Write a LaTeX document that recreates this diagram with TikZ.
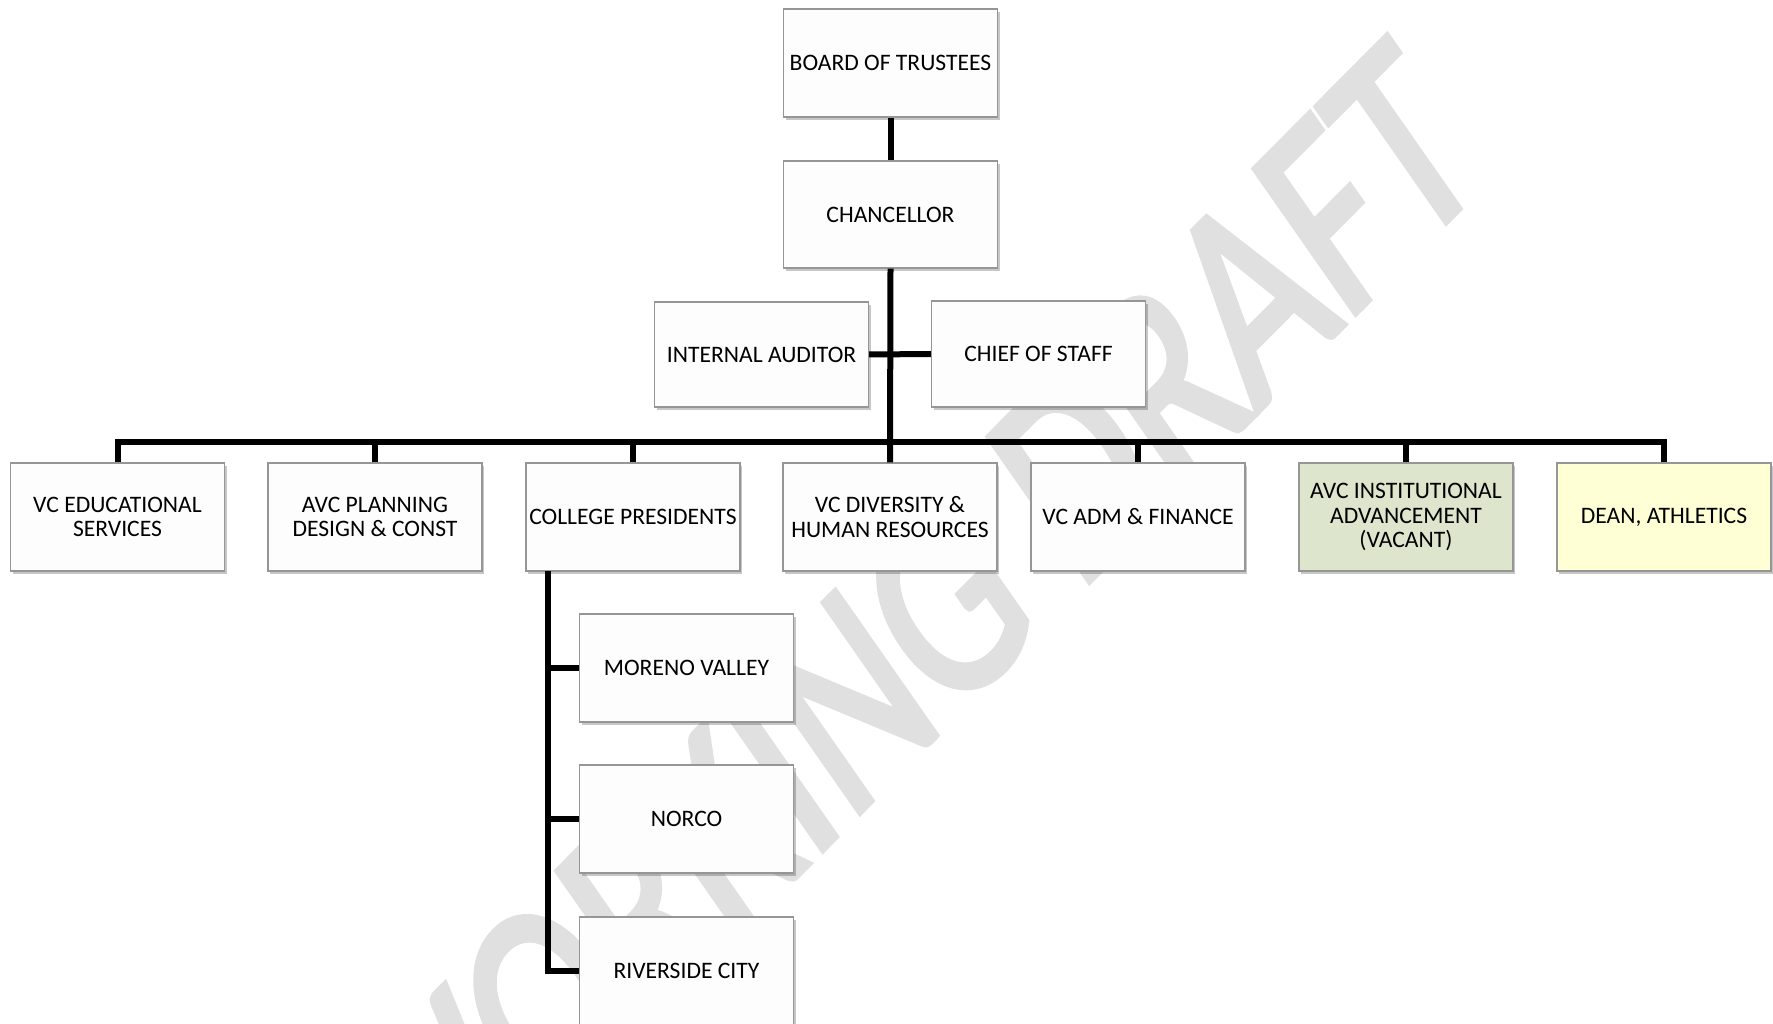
\documentclass[tikz,border=0pt]{standalone}
\usepackage{fontspec}
\setmainfont{Carlito}
\newfontfamily\wmfont[FakeBold=2.5]{Carlito}
\usetikzlibrary{shadows}
\definecolor{boxline}{RGB}{150,150,150}
\definecolor{boxfill}{RGB}{253,253,253}
\definecolor{greenfill}{RGB}{221,230,204}
\definecolor{yellowfill}{RGB}{255,255,213}
\definecolor{wmgray}{RGB}{224,224,224}
\begin{document}
\begin{tikzpicture}[x=1pt,y=-1pt,
  orgbox/.style={draw=boxline, line width=1.3pt, fill=boxfill,
    minimum width=214pt, minimum height=107pt, inner sep=2pt,
    align=center, font=\fontsize{23.6}{24.7}\selectfont,
    drop shadow={shadow xshift=2pt, shadow yshift=-3pt, fill=black, opacity=0.22}},
  link/.style={line width=6pt, draw=black}]
\useasboundingbox (0,0) rectangle (1773,1024);
% watermark
\begin{scope}[yscale=1.2, transform shape]
  \node[rotate=40, xscale=0.82, anchor=base east, inner sep=0pt, text=wmgray,
        font=\wmfont\fontsize{244}{244}\selectfont] (wm) at (1490,148) {WORKING DRAFT};
\end{scope}
% boxes
\node[orgbox, minimum height=108pt] (bot)  at (890.5,63)  {BOARD OF TRUSTEES};
\node[orgbox] (chan) at (890.5,214.5) {CHANCELLOR};
\node[orgbox, minimum height=105pt] (ia)   at (761.5,354.5) {INTERNAL AUDITOR};
\node[orgbox, minimum height=106pt] (cos)  at (1038.5,354) {CHIEF OF STAFF};
\node[orgbox, minimum height=108pt] (ved)  at (117.5,517) {VC EDUCATIONAL\\SERVICES};
\node[orgbox, minimum height=108pt] (avcp) at (375,517) {AVC PLANNING\\DESIGN \& CONST};
\node[orgbox, minimum height=108pt] (cp)   at (633,517) {COLLEGE PRESIDENTS};
\node[orgbox, minimum height=108pt] (vcd)  at (890,517) {VC DIVERSITY \&\\HUMAN RESOURCES};
\node[orgbox, minimum height=108pt] (vca)  at (1138,517) {VC ADM \& FINANCE};
\node[orgbox, minimum height=108pt, fill=greenfill] (avci) at (1406,517) {AVC INSTITUTIONAL\\ADVANCEMENT\\(VACANT)};
\node[orgbox, minimum height=108pt, fill=yellowfill] (dean) at (1664,517) {DEAN, ATHLETICS};
\node[orgbox, minimum height=108pt] (mv) at (686.5,668) {MORENO VALLEY};
\node[orgbox, minimum height=108pt] (nc) at (686.5,819) {NORCO};
\node[orgbox, minimum height=108pt] (rc) at (686.5,971) {RIVERSIDE CITY};
% connectors
\coordinate (bus) at (890.5,442);
\coordinate (spine) at (548,571);
\draw[link] (bot.south) -- (chan.north);
\draw[link] (chan.south) -- (vcd.north);
\draw[link] (ia.east) -- (cos.west);
\draw[link] (ved.north) -- (ved.north |- bus) -- (dean.north |- bus) -- (dean.north);
\foreach \n in {avcp,cp,vca,avci}{
  \draw[link] (\n.north |- bus) -- (\n.north);
}
\draw[link] (spine) |- (rc.west);
\draw[link] (spine |- mv.west) -- (mv.west);
\draw[link] (spine |- nc.west) -- (nc.west);
\end{tikzpicture}
\end{document}
